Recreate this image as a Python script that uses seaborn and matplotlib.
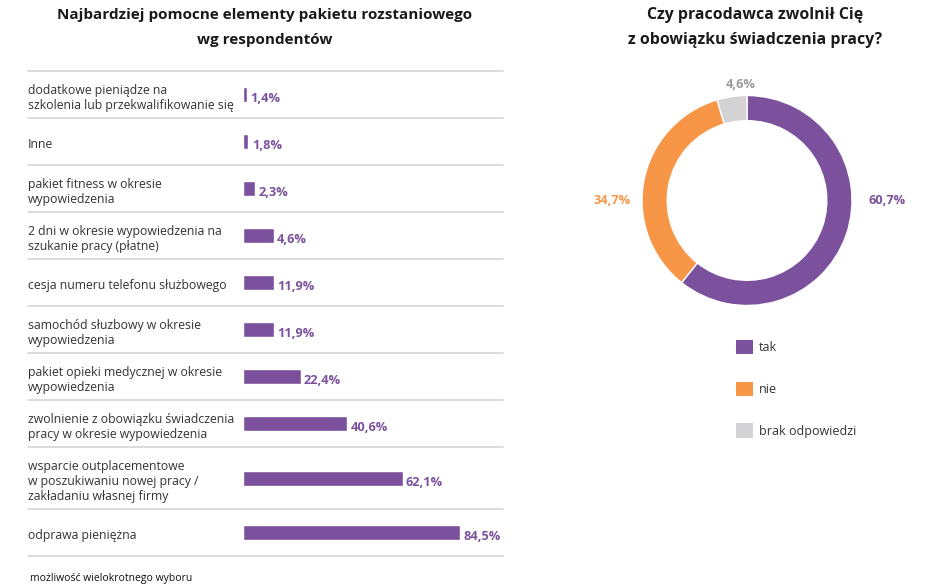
import matplotlib
matplotlib.use("Agg")
import matplotlib.pyplot as plt
from matplotlib.patches import Patch
import seaborn as sns
import pandas as pd
import numpy as np

sns.set_style("white")
plt.rcParams['font.family'] = ['Open Sans', 'DejaVu Sans']

# ---------------- data ----------------
categories = [
    "dodatkowe pieniądze na\nszkolenia lub przekwalifikowanie się",
    "Inne",
    "pakiet fitness w okresie\nwypowiedzenia",
    "2 dni w okresie wypowiedzenia na\nszukanie pracy (płatne)",
    "cesja numeru telefonu służbowego",
    "samochód słuzbowy w okresie\nwypowiedzenia",
    "pakiet opieki medycznej w okresie\nwypowiedzenia",
    "zwolnienie z obowiązku świadczenia\npracy w okresie wypowiedzenia",
    "wsparcie outplacementowe\nw poszukiwaniu nowej pracy /\nzakładaniu własnej firmy",
    "odprawa pieniężna",
]
# bar lengths as drawn in the picture (percent)
bar_lengths = [1.7, 2.1, 4.6, 11.9, 11.9, 11.9, 22.4, 40.6, 62.1, 84.5]
# value labels as printed
value_labels = ["1,4%", "1,8%", "2,3%", "4,6%", "11,9%", "11,9%", "22,4%", "40,6%", "62,1%", "84,5%"]

donut_labels = ["tak", "nie", "brak odpowiedzi"]
donut_values = [60.7, 34.7, 4.6]
donut_texts = ["60,7%", "34,7%", "4,6%"]

title_left = ["Najbardziej pomocne elementy pakietu rozstaniowego", "wg respondentów"]
title_right = ["Czy pracodawca zwolnił Cię", "z obowiązku świadczenia pracy?"]
footnote = "możliwość wielokrotnego wyboru"

purple = "#7B519D"
orange = "#F79646"
grey = "#D3D3D5"
donut_colors = [purple, orange, grey]
label_colors = [purple, orange, "#9A9A9A"]
text_color = "#333333"
sep_color = "#D9D9D9"

W, H = 948, 587
fig = plt.figure(figsize=(W / 100, H / 100), dpi=100)

# ---------------- left: bar chart ----------------
# row heights grow with the number of label lines
n_lines = np.array([c.count("\n") + 1 for c in categories])
row_h = 47 + 15 * np.clip(n_lines - 2, 0, None)
edges = np.concatenate([[0], np.cumsum(row_h)])
centers = (edges[:-1] + edges[1:]) / 2
total = edges[-1]

ax_l0, ax_r0, ax_t0 = 243, 503, 71
ax_b0 = ax_t0 + total
ax = fig.add_axes([ax_l0 / W, 1 - ax_b0 / H, (ax_r0 - ax_l0) / W, (ax_b0 - ax_t0) / H])
df = pd.DataFrame({"pos": centers, "length": bar_lengths})
sns.barplot(data=df, x="length", y="pos", orient="h", native_scale=True,
            color=purple, width=15 / row_h.min(), ax=ax, saturation=1)
ax.set_xlim(0, 101.2)
ax.set_ylim(total, 0)
ax.set_xlabel("")
ax.set_ylabel("")
ax.set_xticks([])
ax.set_yticks([])
for s in ax.spines.values():
    s.set_visible(False)

label_x = (28 - ax_l0) / (ax_r0 - ax_l0)
ytr = ax.get_yaxis_transform()
for e in edges:
    ax.plot([label_x, 1], [e, e], transform=ytr, clip_on=False,
            color=sep_color, lw=1.3)
for c, cat, ln, vl in zip(centers, categories, bar_lengths, value_labels):
    ax.text(label_x, c + 3.5, cat, transform=ytr, ha="left", va="center",
            fontsize=8.8, color=text_color, linespacing=1.22)
    ax.text(ln + 1.3, c + 7.5, vl, ha="left", va="baseline",
            fontsize=9.2, color=purple, fontweight="bold")

for line, yy in zip(title_left, [15, 40]):
    fig.text(265 / W, 1 - yy / H, line, ha="center", va="center",
             fontsize=11.0, fontweight="bold", color="#1a1a1a")

# ---------------- right: donut ----------------
cx, cy, R = 747, 200.5, 105
half = 1.3 * R
ax2 = fig.add_axes([(cx - half) / W, 1 - (cy + half) / H, 2 * half / W, 2 * half / H])
wedges, _ = ax2.pie(donut_values, colors=donut_colors, startangle=90, counterclock=False,
                    radius=1, wedgeprops=dict(width=0.24, edgecolor="white", linewidth=1))
ax2.set_xlim(-1.3, 1.3)
ax2.set_ylim(-1.3, 1.3)
ax2.set_aspect("equal")
ax2.axis("off")

label_pos = [((887 - cx) / R, 0.0), ((612 - cx) / R, 0.0), ((741 - cx) / R, (cy - 85) / R)]
for (px, py), t, c in zip(label_pos, donut_texts, label_colors):
    ax2.text(px, py, t, ha="center", va="center", fontsize=9.2,
             fontweight="bold", color=c, clip_on=False)

for line, yy in zip(title_right, [15, 40]):
    fig.text(755 / W, 1 - yy / H, line, ha="center", va="center",
             fontsize=11.4, fontweight="bold", color="#1a1a1a")

handles = [Patch(facecolor=c, edgecolor="none") for c in donut_colors]
fig.legend(handles=handles, labels=donut_labels, loc="upper left",
           bbox_to_anchor=(736 / W, 1 - 340 / H), frameon=False, borderpad=0,
           borderaxespad=0, handlelength=1.36, handleheight=1.36, labelspacing=2.2,
           handletextpad=0.45, fontsize=9.0, labelcolor=text_color)

fig.text(30 / W, 1 - 578 / H, footnote, ha="left", va="center",
         fontsize=7.5, color="#111111")

fig.savefig("out.png", dpi=100, facecolor="white")
